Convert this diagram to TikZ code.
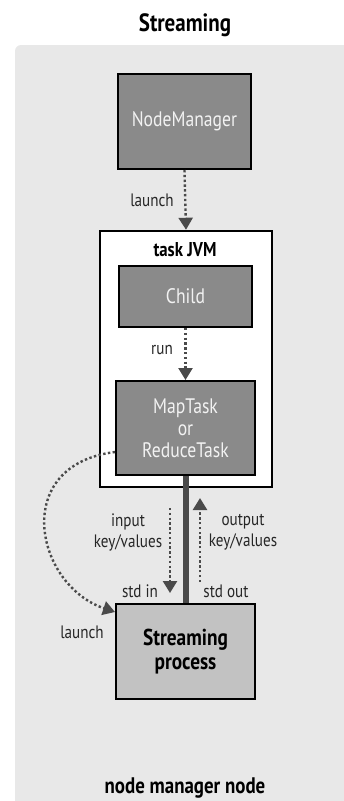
\documentclass[tikz,border=0pt]{standalone}
\usepackage{fontspec}
\setmainfont{PT Sans}[FakeStretch=0.84]
\usetikzlibrary{arrows.meta}
\definecolor{bgc}{HTML}{E8E8E8}
\definecolor{darkbox}{HTML}{8A8A8A}
\definecolor{lightbox}{HTML}{C2C2C2}
\definecolor{arr}{HTML}{4A4A4A}
\definecolor{wtext}{HTML}{F2F2F2}
\tikzset{
  darkbx/.style={draw=black, line width=2pt, fill=darkbox, text=wtext, inner sep=0pt, align=center, font=\fontsize{21}{22}\selectfont},
  lightbx/.style={draw=black, line width=2pt, fill=lightbox, text=black, inner sep=0pt, align=center, font=\fontsize{23}{24}\selectfont\bfseries},
  lbl/.style={text=black!85, inner sep=0pt, align=center, font=\fontsize{18}{21}\selectfont},
  dotarrow/.style={draw=arr, line width=2.4pt, dash pattern=on 2.4pt off 2.4pt, -{Triangle[width=14pt,length=12pt]}},
}
\begin{document}
\begin{tikzpicture}[x=1pt,y=-1pt]
\useasboundingbox (0,0) rectangle (344,801);
\fill[bgc, rounded corners=6pt] (15,45) rectangle (360,820);
\node[font=\fontsize{25}{27}\selectfont\bfseries] (title) at (185,25) {Streaming};
\node[draw=black, line width=2.5pt, fill=white, minimum width=172pt, minimum height=256pt] (jvm) at (186,359) {};
\node[font=\fontsize{20}{22}\selectfont\bfseries] (jvml) at (185,250) {task JVM};
\node[darkbx, minimum width=133pt, minimum height=95pt] (nm) at (184.5,121.5) {NodeManager};
\node[darkbx, minimum width=133pt, minimum height=61pt] (child) at (185.5,296.5) {Child};
\node[darkbx, minimum width=139pt, minimum height=94pt] (task) at (185.5,428) {MapTask\\or\\ReduceTask};
\node[lightbx, minimum width=139pt, minimum height=95pt] (sp) at (185.5,651.5) {Streaming\\process};
\draw[dotarrow] (nm.south) -- (jvm.north);
\node[lbl] (l1) at (152,200) {launch};
\draw[dotarrow] (child.south) -- (task.north);
\node[lbl] (l2) at (162,350) {run};
\draw[arr, line width=6pt] (task.south) -- (sp.north);
\coordinate (ina) at (170,508);
\coordinate (inb) at (170,593);
\draw[dotarrow] (ina) -- (inb);
\coordinate (outa) at (200,582);
\coordinate (outb) at (200,498);
\draw[dotarrow] (outa) -- (outb);
\node[lbl] (inl) at (128,532) {input\\key/values};
\node[lbl] (outl) at (243,532) {output\\key/values};
\node[lbl] (stdin) at (140,591) {std in};
\node[lbl] (stdout) at (226,591) {std out};
\draw[dotarrow] (task.west |- 0,452) .. controls (10,465) and (35,585) .. (sp.west |- 0,612);
\node[lbl] (l3) at (82,632) {launch};
\node[font=\fontsize{22.5}{24}\selectfont\bfseries] (foot) at (185,788) {node manager node};
\end{tikzpicture}
\end{document}
